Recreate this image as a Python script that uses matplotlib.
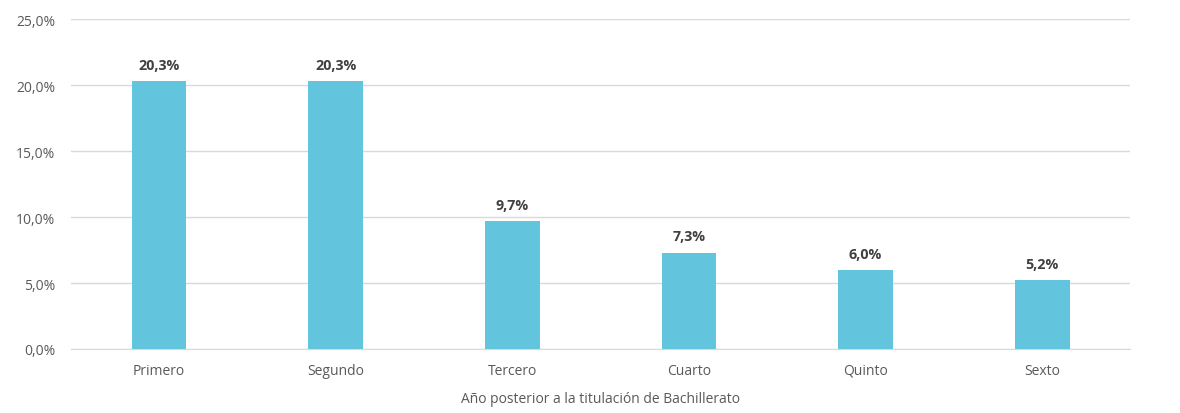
import matplotlib
matplotlib.use('Agg')
import matplotlib.pyplot as plt
import numpy as np
from matplotlib.ticker import FuncFormatter

plt.rcParams['font.family'] = ['Open Sans', 'DejaVu Sans']

categories = ['Primero', 'Segundo', 'Tercero', 'Cuarto', 'Quinto', 'Sexto']
values = [20.3, 20.3, 9.7, 7.3, 6.0, 5.2]
yticks = [0, 5, 10, 15, 20, 25]

fig = plt.figure(figsize=(11.8, 4.14), dpi=100)
ax = fig.add_axes([0.060, 0.1546, 0.898, 0.797])

x = np.arange(len(categories))
ax.bar(x, values, width=0.31, color='#63C4DD', zorder=3)

for xi, v in zip(x, values):
    ax.text(xi, v + 0.7, f'{v:.1f}%'.replace('.', ','), ha='center', va='bottom',
            fontsize=10.3, fontweight='bold', color='#404040')

ax.set_xlim(-0.5, len(categories) - 0.5)
ax.set_ylim(0, 25)
ax.set_yticks(yticks)
ax.yaxis.set_major_formatter(FuncFormatter(lambda v, p: f'{v:.1f}%'.replace('.', ',')))
ax.set_xticks(x)
ax.set_xticklabels(categories, va='baseline')
ax.grid(axis='y', color='#D9D9D9', linewidth=1, zorder=0)
for s in ['top', 'right', 'left']:
    ax.spines[s].set_visible(False)
ax.spines['bottom'].set_color('#D9D9D9')
ax.tick_params(axis='both', length=0, colors='#595959', labelsize=10)
ax.tick_params(axis='x', pad=18)
ax.tick_params(axis='y', pad=11)
ax.set_xlabel('Año posterior a la titulación de Bachillerato', fontsize=10,
              color='#595959')
ax.xaxis.set_label_coords(0.5, -0.128)

fig.savefig('out.png', dpi=100)
